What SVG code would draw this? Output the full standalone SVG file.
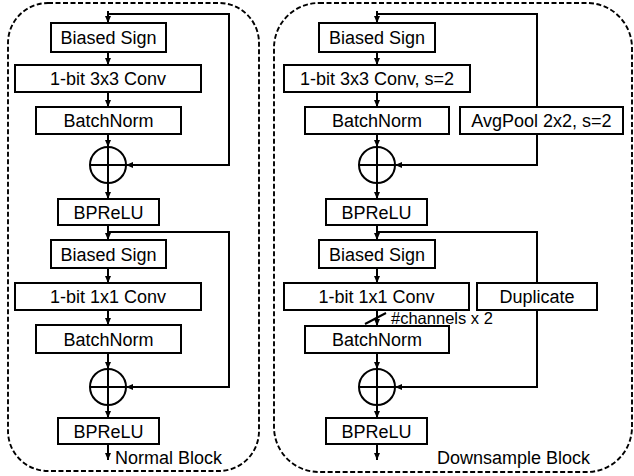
<svg xmlns="http://www.w3.org/2000/svg" width="634" height="476" viewBox="0 0 634 476">
<defs>
<marker id="ah" markerWidth="7" markerHeight="6" refX="7" refY="3" orient="auto" markerUnits="userSpaceOnUse">
<path d="M0,0 L7,3 L0,6 z" fill="#000"/>
</marker>
<style>
.box{fill:#fff;stroke:#000;stroke-width:2}
.t{font-family:"Liberation Sans",Arial,sans-serif;font-size:18px;fill:#000;text-anchor:middle}
.lbl{font-family:"Liberation Sans",Arial,sans-serif;font-size:18px;fill:#000}
.c{fill:none;stroke:#000;stroke-width:2}
.add{fill:#fff;stroke:#000;stroke-width:2}
.dash{fill:none;stroke:#000;stroke-width:1.9;stroke-dasharray:5,2.5}
</style>
</defs>
<rect class="dash" x="8" y="3" width="251" height="468" rx="40" ry="40"/>
<rect class="dash" x="274" y="3" width="358" height="469" rx="45" ry="45"/>
<g id="connectors">
<path class="c" d="M108,11 V23" marker-end="url(#ah)"/>
<path class="c" d="M108,14 H229 V165 H126" marker-end="url(#ah)"/>
<path class="c" d="M108,52 V65" marker-end="url(#ah)"/>
<path class="c" d="M108,92 V107" marker-end="url(#ah)"/>
<path class="c" d="M108,134 V147" marker-end="url(#ah)"/>
<path class="c" d="M108,183 V199" marker-end="url(#ah)"/>
<path class="c" d="M108,225 V240" marker-end="url(#ah)"/>
<path class="c" d="M108,232 H229 V387 H126" marker-end="url(#ah)"/>
<path class="c" d="M108,268 V283" marker-end="url(#ah)"/>
<path class="c" d="M108,310 V325" marker-end="url(#ah)"/>
<path class="c" d="M108,353 V369" marker-end="url(#ah)"/>
<path class="c" d="M108,405 V418" marker-end="url(#ah)"/>
<path class="c" d="M108,444 V460" marker-end="url(#ah)"/>
<path class="c" d="M377,11 V23" marker-end="url(#ah)"/>
<path class="c" d="M377,14 H537 V107"/>
<path class="c" d="M537,134 V165 H395" marker-end="url(#ah)"/>
<path class="c" d="M377,52 V65" marker-end="url(#ah)"/>
<path class="c" d="M377,92 V107" marker-end="url(#ah)"/>
<path class="c" d="M377,134 V147" marker-end="url(#ah)"/>
<path class="c" d="M377,183 V199" marker-end="url(#ah)"/>
<path class="c" d="M377,225 V240" marker-end="url(#ah)"/>
<path class="c" d="M377,232 H537 V283"/>
<path class="c" d="M537,310 V387 H395" marker-end="url(#ah)"/>
<path class="c" d="M377,268 V283" marker-end="url(#ah)"/>
<path class="c" d="M377,310 V326" marker-end="url(#ah)"/>
<path class="c" d="M365,324 L386,313"/>
<path class="c" d="M377,353 V369" marker-end="url(#ah)"/>
<path class="c" d="M377,405 V418" marker-end="url(#ah)"/>
<path class="c" d="M377,444 V460" marker-end="url(#ah)"/>
</g>
<g id="n-bs1"><rect class="box" x="51" y="23" width="115" height="29"/><text class="t" x="108.5" y="44">Biased Sign</text></g>
<g id="n-conv1"><rect class="box" x="15" y="65" width="186" height="27"/><text class="t" x="108" y="85">1-bit 3x3 Conv</text></g>
<g id="n-bn1"><rect class="box" x="36" y="107" width="145" height="27"/><text class="t" x="108.5" y="127">BatchNorm</text></g>
<g id="n-add1"><circle class="add" cx="108" cy="165" r="18"/><path class="c" d="M90,165 H126 M108,147 V183"/></g>
<g id="n-bprelu1"><rect class="box" x="58" y="199" width="101" height="26"/><text class="t" x="108.5" y="218.5">BPReLU</text></g>
<g id="n-bs2"><rect class="box" x="51" y="240" width="115" height="28"/><text class="t" x="108.5" y="260.5">Biased Sign</text></g>
<g id="n-conv2"><rect class="box" x="15" y="283" width="186" height="27"/><text class="t" x="108" y="303">1-bit 1x1 Conv</text></g>
<g id="n-bn2"><rect class="box" x="36" y="325" width="145" height="28"/><text class="t" x="108.5" y="345.5">BatchNorm</text></g>
<g id="n-add2"><circle class="add" cx="108" cy="387" r="18"/><path class="c" d="M90,387 H126 M108,369 V405"/></g>
<g id="n-bprelu2"><rect class="box" x="58" y="418" width="101" height="26"/><text class="t" x="108.5" y="437.5">BPReLU</text></g>
<g id="lbl-normal"><text class="lbl" x="115" y="464">Normal Block</text></g>
<g id="d-bs1"><rect class="box" x="319" y="23" width="116" height="29"/><text class="t" x="377" y="44">Biased Sign</text></g>
<g id="d-conv1"><rect class="box" x="284" y="65" width="186" height="27"/><text class="t" x="377" y="85">1-bit 3x3 Conv, s=2</text></g>
<g id="d-bn1"><rect class="box" x="305" y="107" width="144" height="27"/><text class="t" x="377" y="127">BatchNorm</text></g>
<g id="d-pool"><rect class="box" x="460" y="107" width="163" height="27"/><text class="t" x="541.5" y="127">AvgPool 2x2, s=2</text></g>
<g id="d-add1"><circle class="add" cx="377" cy="165" r="18"/><path class="c" d="M359,165 H395 M377,147 V183"/></g>
<g id="d-bprelu1"><rect class="box" x="326" y="199" width="101" height="26"/><text class="t" x="376.5" y="218.5">BPReLU</text></g>
<g id="d-bs2"><rect class="box" x="319" y="240" width="116" height="28"/><text class="t" x="377" y="260.5">Biased Sign</text></g>
<g id="d-conv2"><rect class="box" x="284" y="283" width="185" height="27"/><text class="t" x="376.5" y="303">1-bit 1x1 Conv</text></g>
<g id="d-dup"><rect class="box" x="477" y="283" width="120" height="27"/><text class="t" x="537" y="303">Duplicate</text></g>
<g id="lbl-ch"><text class="lbl" x="391" y="324" style="font-size:16.5px">#channels x 2</text></g>
<g id="d-bn2"><rect class="box" x="305" y="326" width="144" height="27"/><text class="t" x="377" y="346">BatchNorm</text></g>
<g id="d-add2"><circle class="add" cx="377" cy="387" r="18"/><path class="c" d="M359,387 H395 M377,369 V405"/></g>
<g id="d-bprelu2"><rect class="box" x="326" y="418" width="101" height="26"/><text class="t" x="376.5" y="437.5">BPReLU</text></g>
<g id="lbl-down"><text class="lbl" x="437" y="464">Downsample Block</text></g>
</svg>
